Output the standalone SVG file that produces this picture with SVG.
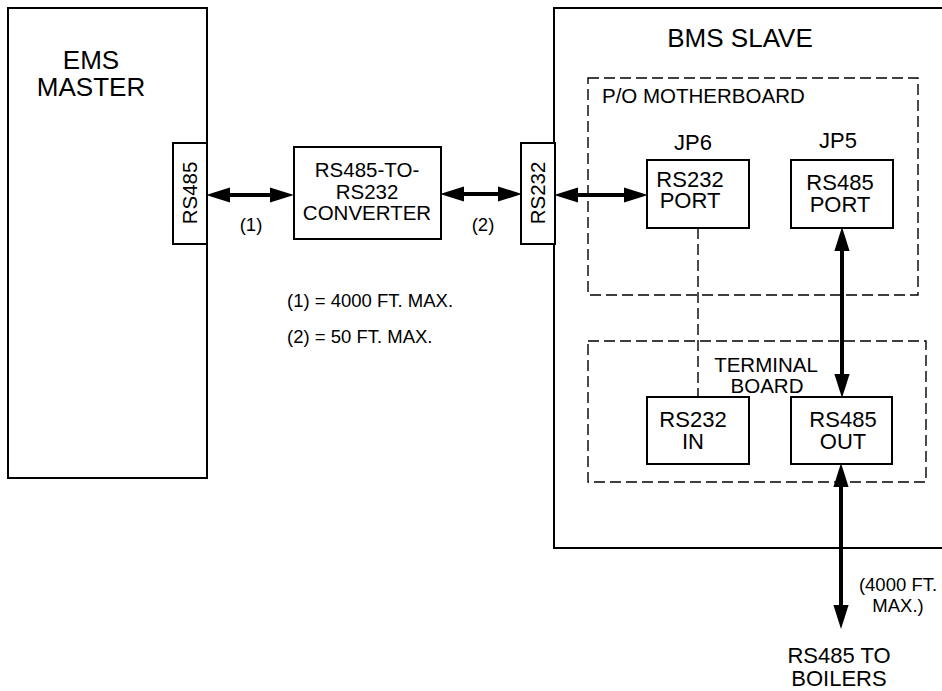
<svg xmlns="http://www.w3.org/2000/svg" width="942" height="691" viewBox="0 0 942 691">
<defs>
<style>
.box{fill:#fff;stroke:#000;stroke-width:2}
.dash{fill:none;stroke:#000;stroke-width:1.4;stroke-dasharray:11,5}
.t{font-family:"Liberation Sans",Arial,sans-serif;fill:#000;text-anchor:middle}
.big{font-size:26px}
.lg{font-size:22px}
.mid{font-size:20.5px}
.sm{font-size:18.5px}
.conn{stroke:#000;stroke-width:4;fill:none}
.dl{stroke:#000;stroke-width:1.4;stroke-dasharray:11,5;fill:none}
</style>
<marker id="ah" markerUnits="userSpaceOnUse" markerWidth="24" markerHeight="16" viewBox="0 0 22 14" refX="12" refY="7" orient="auto-start-reverse">
<path d="M0,0 L22,7 L0,14 z" fill="#000"/>
</marker>
</defs>
<rect width="942" height="691" fill="#fff"/>

<g id="ems-master">
<rect class="box" x="8" y="8" width="199" height="470"/>
<text class="t big" x="91" y="69">EMS</text>
<text class="t big" x="91" y="96">MASTER</text>
</g>
<g id="ems-rs485">
<rect class="box" x="173" y="143" width="34" height="101"/>
<text class="t mid" transform="translate(197,193) rotate(-90)">RS485</text>
</g>
<g id="converter">
<rect class="box" x="294" y="147" width="147" height="92"/>
<text class="t mid" x="367" y="177">RS485-TO-</text>
<text class="t mid" x="367" y="199">RS232</text>
<text class="t mid" x="367" y="220">CONVERTER</text>
</g>
<g id="bms-slave">
<rect class="box" x="554" y="8" width="400" height="540"/>
<text class="t big" x="740" y="47">BMS SLAVE</text>
</g>
<g id="bms-rs232">
<rect class="box" x="521" y="143" width="34" height="101"/>
<text class="t mid" transform="translate(545,193) rotate(-90)">RS232</text>
</g>
<g id="motherboard">
<rect class="dash" x="588" y="78" width="330" height="217"/>
<text class="t mid" x="602" y="103" style="text-anchor:start">P/O MOTHERBOARD</text>
</g>
<g id="jp6">
<text class="t lg" x="693" y="150">JP6</text>
<rect class="box" x="647" y="160" width="102" height="68"/>
<text class="t lg" x="690" y="187">RS232</text>
<text class="t lg" x="690" y="208">PORT</text>
</g>
<g id="jp5">
<text class="t lg" x="838" y="148">JP5</text>
<rect class="box" x="791" y="160" width="102" height="68"/>
<text class="t lg" x="840" y="190">RS485</text>
<text class="t lg" x="840" y="212">PORT</text>
</g>
<g id="terminal-board">
<rect class="dash" x="588" y="341" width="338" height="141"/>
<text class="t mid" x="766" y="372">TERMINAL</text>
<text class="t mid" x="767" y="393">BOARD</text>
</g>
<g id="rs232-in">
<rect class="box" x="647" y="397" width="102" height="67"/>
<text class="t lg" x="693" y="427">RS232</text>
<text class="t lg" x="693" y="449">IN</text>
</g>
<g id="rs485-out">
<rect class="box" x="791" y="397" width="101" height="67"/>
<text class="t lg" x="843" y="427">RS485</text>
<text class="t lg" x="843" y="449">OUT</text>
</g>

<g id="connectors">
<line class="conn" x1="217" y1="195" x2="283" y2="195" marker-start="url(#ah)" marker-end="url(#ah)"/>
<line class="conn" x1="451" y1="194" x2="511" y2="194" marker-start="url(#ah)" marker-end="url(#ah)"/>
<line class="conn" x1="565" y1="195" x2="637" y2="195" marker-start="url(#ah)" marker-end="url(#ah)"/>
<line class="conn" x1="842" y1="238" x2="842" y2="387" marker-start="url(#ah)" marker-end="url(#ah)"/>
<line class="conn" x1="841" y1="474" x2="841" y2="618" marker-start="url(#ah)" marker-end="url(#ah)"/>
<line class="dl" x1="698" y1="228" x2="698" y2="397"/>
</g>

<g id="labels">
<text class="t sm" x="251" y="231">(1)</text>
<text class="t sm" x="483" y="231">(2)</text>
<text class="t sm" x="287" y="307" style="text-anchor:start">(1) = 4000 FT. MAX.</text>
<text class="t sm" x="287" y="343" style="text-anchor:start">(2) = 50 FT. MAX.</text>
<text class="t sm" x="898" y="591">(4000 FT.</text>
<text class="t sm" x="898" y="612">MAX.)</text>
<text class="t lg" x="839" y="663">RS485 TO</text>
<text class="t lg" x="839" y="686">BOILERS</text>
</g>
</svg>
